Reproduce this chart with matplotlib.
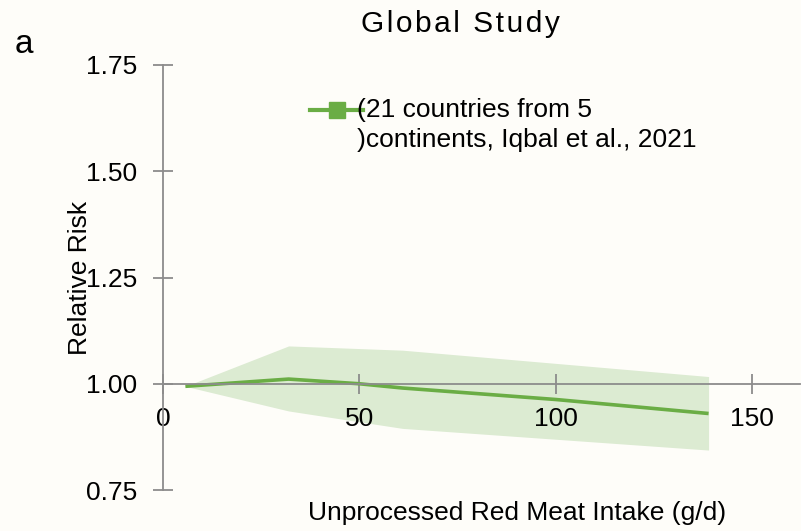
"""Global study: relative risk vs unprocessed red meat intake."""

import matplotlib
matplotlib.use("Agg")
import matplotlib.pyplot as plt
from matplotlib.lines import Line2D

# Dose-response curve (g/d vs RR)
intake = [5.7, 32, 50, 61, 100, 139]
rr = [0.994, 1.011, 1.000, 0.990, 0.963, 0.930]
ci_intake = [5.7, 32, 61, 139]
ci_upper = [0.994, 1.089, 1.079, 1.017]
ci_lower = [0.994, 0.936, 0.895, 0.844]

x_ticks = [0, 50, 100, 150]
y_ticks = [0.75, 1.00, 1.25, 1.50, 1.75]
legend_lines = ["(21 countries from 5", ")continents, Iqbal et al., 2021"]
title = "Global Study"

LINE_GREEN = "#6aad45"
BAND_GREEN = "#dcebd2"
AXIS_GRAY = "#8c8c8c"
BG = "#fefdf9"
FS = 19

plt.rcParams["font.family"] = ["Liberation Sans", "DejaVu Sans"]

fig = plt.figure(figsize=(8.01, 5.31), dpi=100, facecolor=BG)
ax = fig.add_axes([0.2035, 0.0772, 0.7953, 0.8004], facecolor=BG)

ax.fill_between(ci_intake, ci_lower, ci_upper, color=BAND_GREEN, lw=0)
ax.plot(intake, rr, color=LINE_GREEN, lw=2.6, solid_capstyle="butt")

ax.set_xlim(0, 162.3)
ax.set_ylim(0.75, 1.75)

for side in ["top", "right"]:
    ax.spines[side].set_visible(False)
ax.spines["bottom"].set_position(("data", 1.0))
ax.spines["left"].set_bounds(0.75, 1.75)
for side in ["bottom", "left"]:
    ax.spines[side].set_color(AXIS_GRAY)
    ax.spines[side].set_linewidth(1.3)

ax.set_xticks(x_ticks)
ax.set_yticks(y_ticks)
ax.set_yticklabels([f"{v:.2f}" for v in y_ticks])
ax.tick_params(axis="both", direction="inout", length=15, width=1.3,
               color=AXIS_GRAY, labelsize=FS, labelcolor="black")
ax.tick_params(axis="y", pad=11)
ax.tick_params(axis="x", pad=9)

# axis titles
fig.text(0.6455, 0.021, "Unprocessed Red Meat Intake (g/d)", ha="center",
         va="baseline", fontsize=FS)
fig.text(0.0999, 0.4774, "Relative Risk", ha="center", va="center",
         rotation=90, fontsize=FS)
# the title in the source is letter-spaced
fig.text(0.5743, 0.9397, "\u200a".join(title), ha="center", va="baseline",
         fontsize=21.5)
fig.text(0.03, 0.900, "a", ha="center", va="baseline", fontsize=24)

# legend drawn by hand so the key sits on the first text line
fig.add_artist(Line2D([0.387, 0.453], [0.7928, 0.7928], color=LINE_GREEN,
                      lw=3, transform=fig.transFigure))
fig.add_artist(Line2D([0.4207], [0.7928], marker="s", markersize=11.5,
                      color=LINE_GREEN, transform=fig.transFigure))
fig.text(0.4457, 0.7797, legend_lines[0], ha="left", va="baseline",
         fontsize=FS)
fig.text(0.4457, 0.7232, legend_lines[1], ha="left", va="baseline",
         fontsize=FS)

fig.savefig("out.png", dpi=100, facecolor=BG)
